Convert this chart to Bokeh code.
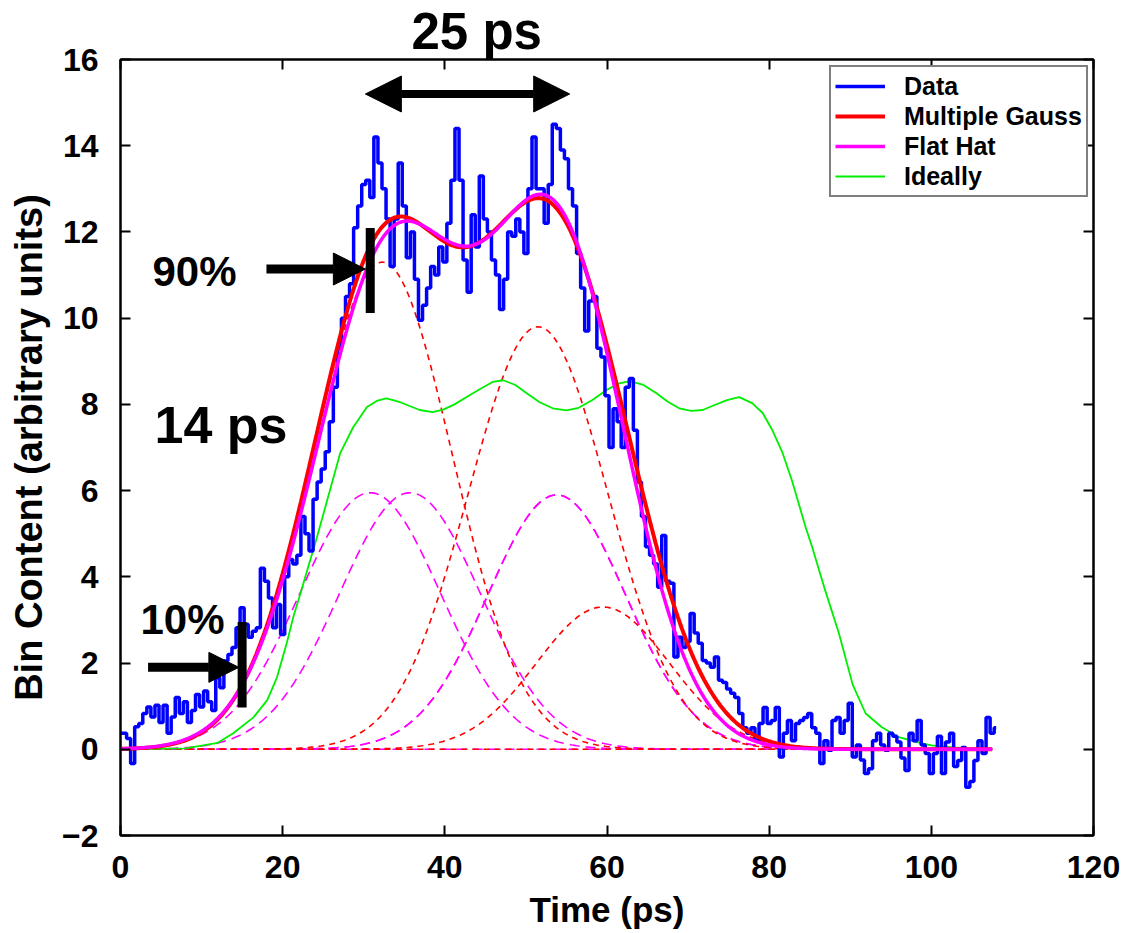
import numpy as np
from bokeh.plotting import figure
from bokeh.models import (Range1d, LinearAxis, FixedTicker, Legend, LegendItem,
                          Arrow, NormalHead, Label)
from bokeh.embed import file_html
from bokeh.resources import INLINE

# ---------------- data ----------------
# measured histogram, 0.5 ps bins
time_ps = [i * 0.5 for i in range(217)]
bin_content = [
    0.37, 0.37, 0.25, -0.33, 0.52, 0.6, 0.83, 0.98, 0.75, 1.02,
    0.62, 1.02, 0.37, 0.75, 1.2, 0.83, 1.1, 0.62, 0.9, 1.27,
    0.98, 1.35, 1.1, 0.9, 1.66, 1.43, 2.05, 2.2, 2.36, 2.82,
    3.28, 2.9, 2.6, 2.74, 2.82, 4.2, 3.9, 3.51, 2.82, 3.36,
    2.66, 4.0, 4.4, 4.3, 4.5, 5.4, 5.0, 4.6, 5.8, 6.2,
    6.5, 6.9, 7.6, 8.4, 9.3, 10.0, 10.5, 10.8, 12.1, 12.6,
    13.1, 13.2, 12.8, 14.2, 13.6, 13.0, 12.3, 11.2, 12.3, 13.6,
    12.6, 11.4, 12.0, 10.9, 9.95, 10.3, 10.7, 11.2, 11.0, 11.65,
    11.3, 12.2, 13.2, 14.4, 13.2, 11.35, 10.6, 12.4, 11.65, 13.3,
    12.3, 12.0, 11.35, 11.0, 10.2, 10.9, 12.0, 11.9, 12.3, 12.0,
    11.5, 13.0, 14.2, 13.0, 13.0, 12.2, 13.1, 14.5, 14.4, 13.9,
    13.7, 13.0, 12.6, 11.5, 10.7, 9.7, 10.4, 10.5, 9.3, 9.1,
    8.2, 7.0, 7.9, 7.6, 7.0, 8.4, 8.6, 7.4, 6.2, 5.4,
    4.7, 4.5, 4.3, 3.76, 4.96, 3.9, 3.85, 2.14, 2.6, 2.36,
    2.5, 3.15, 2.7, 2.46, 2.06, 2.0, 1.9, 2.14, 1.6, 1.55,
    1.4, 1.3, 1.2, 0.83, 0.5, 0.37, 0.5, 0.2, 0.6, 0.97,
    0.6, 0.67, 0.97, -0.18, 0.37, 0.67, 0.2, 0.6, 0.67, 0.74,
    0.83, 0.5, 0.37, -0.33, 0.2, -0.02, 0.67, 0.74, 0.37, 0.67,
    1.07, -0.18, 0.1, -0.25, -0.56, -0.45, 0.2, 0.37, 0.1, -0.02,
    0.37, 0.3, 0.17, -0.2, -0.49, 0.37, 0.2, 0.67, 0.1, -0.1,
    -0.56, -0.1, 0.3, -0.56, 0.17, 0.37, -0.4, -0.26, 0.04, -0.88,
    -0.75, -0.26, 0.2, -0.1, 0.74, 0.37, 0.5]

# "Ideally" curve, points
ideal_t = [0, 8, 12, 13.9, 16.4, 18.1, 19.3, 20.5, 21.3, 22.2, 23.4, 24.2, 25.5,
           27.1, 28.7, 30.4, 31.6, 32.8, 34.5, 36.9, 38.5, 39.8, 41.2, 42.7, 44.3,
           45.9, 47.2, 48.7, 50.1, 51.7, 53.3, 55.0, 56.5, 58.2, 59.9, 61.4, 62.8,
           64.5, 66.1, 67.5, 68.9, 70.4, 71.8, 73.2, 74.8, 76.3, 77.9, 79.2, 80.4,
           81.6, 82.8, 84.5, 85.3, 86.8, 88.6, 90.3, 91.9, 93.9, 96.0, 98.1, 100.0,
           104.0, 107.5]
ideal_y = [0.0, 0.02, 0.15, 0.37, 0.74, 1.14, 1.67, 2.46, 3.06, 3.62, 4.39, 4.9, 5.78,
           6.87, 7.47, 7.94, 8.08, 8.14, 8.05, 7.87, 7.82, 7.88, 8.0, 8.17, 8.35,
           8.52, 8.56, 8.45, 8.26, 8.05, 7.91, 7.86, 7.92, 8.1, 8.33, 8.48, 8.54,
           8.45, 8.26, 8.06, 7.91, 7.85, 7.87, 7.98, 8.1, 8.17, 8.03, 7.8, 7.4,
           6.9, 6.24, 5.15, 4.69, 3.75, 2.69, 1.5, 0.83, 0.51, 0.28, 0.17, 0.09,
           0.02, 0.0]

# Multiple Gauss fit components (amplitude, centre, width)
gauss_amps = [11.3, 9.8, 3.3, 0.0]
gauss_centers = [32.3, 51.5, 59.5, 60.0]
gauss_sigmas = [8.6, 8.6, 8.2, 8.0]

# Flat Hat fit components
flat_amps = [5.95, 5.95, 5.9, 5.9, 0.0]
flat_centers = [30.8, 35.7, 53.8, 53.8, 60.0]
flat_sigmas = [8.7, 8.7, 8.5, 8.5, 8.0]

x_ticks = [0, 20, 40, 60, 80, 100, 120]
y_ticks = [-2, 0, 2, 4, 6, 8, 10, 12, 14, 16]

t_model = np.linspace(0, 107.5, 431)


def gauss(a, c, s):
    return a * np.exp(-(t_model - c) ** 2 / (2 * s * s))


FONT = "Liberation Sans"

p = figure(frame_width=973, frame_height=776, x_range=Range1d(0, 120), y_range=Range1d(-2, 16),
           output_backend="svg", toolbar_location=None,
           min_border_left=120, min_border_top=59, min_border_right=32, min_border_bottom=60)
p.grid.visible = False
p.outline_line_color = "black"
p.outline_line_width = 2
p.background_fill_color = "white"
p.border_fill_color = "white"

p.title.text = "25 ps"
p.title.align = "left"
p.title.offset = 291
p.title.standoff = 0
p.title.text_font = FONT
p.title.text_font_style = "bold"
p.title.text_font_size = "51px"
p.title.text_color = "black"

for ax in (p.xaxis[0], p.yaxis[0]):
    ax.major_tick_in = 10
    ax.major_tick_out = 0
    ax.minor_tick_in = 0
    ax.minor_tick_out = 0
    ax.axis_line_width = 2
    ax.major_tick_line_width = 2
    ax.major_label_text_font = FONT
    ax.major_label_text_font_style = "bold"
    ax.major_label_text_font_size = "32px"
    ax.major_label_text_color = "black"
    ax.axis_label_text_font = FONT
    ax.axis_label_text_font_style = "bold"
    ax.axis_label_text_color = "black"

p.xaxis[0].axis_label_text_font_size = "35px"
p.yaxis[0].axis_label_text_font_size = "38px"
p.xaxis[0].ticker = FixedTicker(ticks=x_ticks)
p.yaxis[0].ticker = FixedTicker(ticks=y_ticks)
p.yaxis[0].major_label_overrides = {-2: "\u22122"}
p.xaxis[0].axis_label = "Time (ps)"
p.yaxis[0].axis_label = "Bin Content (arbitrary units)"
p.xaxis[0].major_label_standoff = 20
p.yaxis[0].major_label_standoff = 22
p.xaxis[0].axis_label_standoff = 9
p.yaxis[0].axis_label_standoff = 9

# unlabeled tick marks on the top and right frame edges
for loc, ticks in (("above", x_ticks), ("right", y_ticks)):
    ax = LinearAxis(ticker=FixedTicker(ticks=[], minor_ticks=ticks),
                    major_tick_in=0, major_tick_out=0,
                    minor_tick_in=10, minor_tick_out=0, minor_tick_line_width=2,
                    minor_tick_line_color="black", axis_line_width=2,
                    major_label_standoff=0)
    p.add_layout(ax, loc)

# components (dashed)
for a, c, s in zip(flat_amps, flat_centers, flat_sigmas):
    p.line(t_model, gauss(a, c, s), line_color="#ff00ff", line_width=1.6, line_dash="10 6")
for a, c, s in zip(gauss_amps, gauss_centers, gauss_sigmas):
    p.line(t_model, gauss(a, c, s), line_color="#ff0000", line_width=1.6, line_dash="6 5")

multi = sum(gauss(a, c, s) for a, c, s in zip(gauss_amps, gauss_centers, gauss_sigmas))
flat = sum(gauss(a, c, s) for a, c, s in zip(flat_amps, flat_centers, flat_sigmas))

r_ideal = p.line(ideal_t, ideal_y, line_color="#00ee00", line_width=1.8)
r_data = p.step(time_ps, bin_content, mode="center", line_color="#0000ff", line_width=3.5)
r_multi = p.line(t_model, multi, line_color="#ff0000", line_width=4)
r_flat = p.line(t_model, flat, line_color="#ff00ff", line_width=3.5)

legend = Legend(items=[LegendItem(label="Data", renderers=[r_data]),
                       LegendItem(label="Multiple Gauss", renderers=[r_multi]),
                       LegendItem(label="Flat Hat", renderers=[r_flat]),
                       LegendItem(label="Ideally", renderers=[r_ideal])],
                location=(709, 638), margin=0, padding=4, spacing=0,
                label_height=30, glyph_height=30, glyph_width=50, label_standoff=19,
                label_text_font=FONT, label_text_font_style="bold",
                label_text_font_size="25px", label_text_color="black",
                border_line_color="black", border_line_width=2,
                background_fill_color="white", background_fill_alpha=1.0)
p.add_layout(legend)

# annotations
head = dict(fill_color="black", line_color="black")
p.add_layout(Arrow(start=NormalHead(size=36, **head), end=NormalHead(size=36, **head),
                   x_start=30.2, y_start=15.2, x_end=55.4, y_end=15.2,
                   line_color="black", line_width=8))
p.add_layout(Arrow(end=NormalHead(size=32, **head), x_start=18.0, y_start=11.14,
                   x_end=30.2, y_end=11.14, line_color="black", line_width=9))
p.add_layout(Arrow(end=NormalHead(size=30, **head), x_start=3.4, y_start=1.9,
                   x_end=14.6, y_end=1.9, line_color="black", line_width=9))
p.segment(x0=[30.8, 15.0], y0=[10.12, 0.97], x1=[30.8, 15.0], y1=[12.09, 2.95],
          line_color="black", line_width=9)

for txt, x, y, size in (("14 ps", 4.2, 7.52, "52px"),
                        ("90%", 3.94, 11.08, "42px"), ("10%", 2.46, 3.01, "42px")):
    p.add_layout(Label(x=x, y=y, text=txt, text_font=FONT, text_font_style="bold",
                       text_font_size=size, text_align="left", text_baseline="middle",
                       text_color="black"))

open("out.html", "w").write(file_html(p, INLINE))
